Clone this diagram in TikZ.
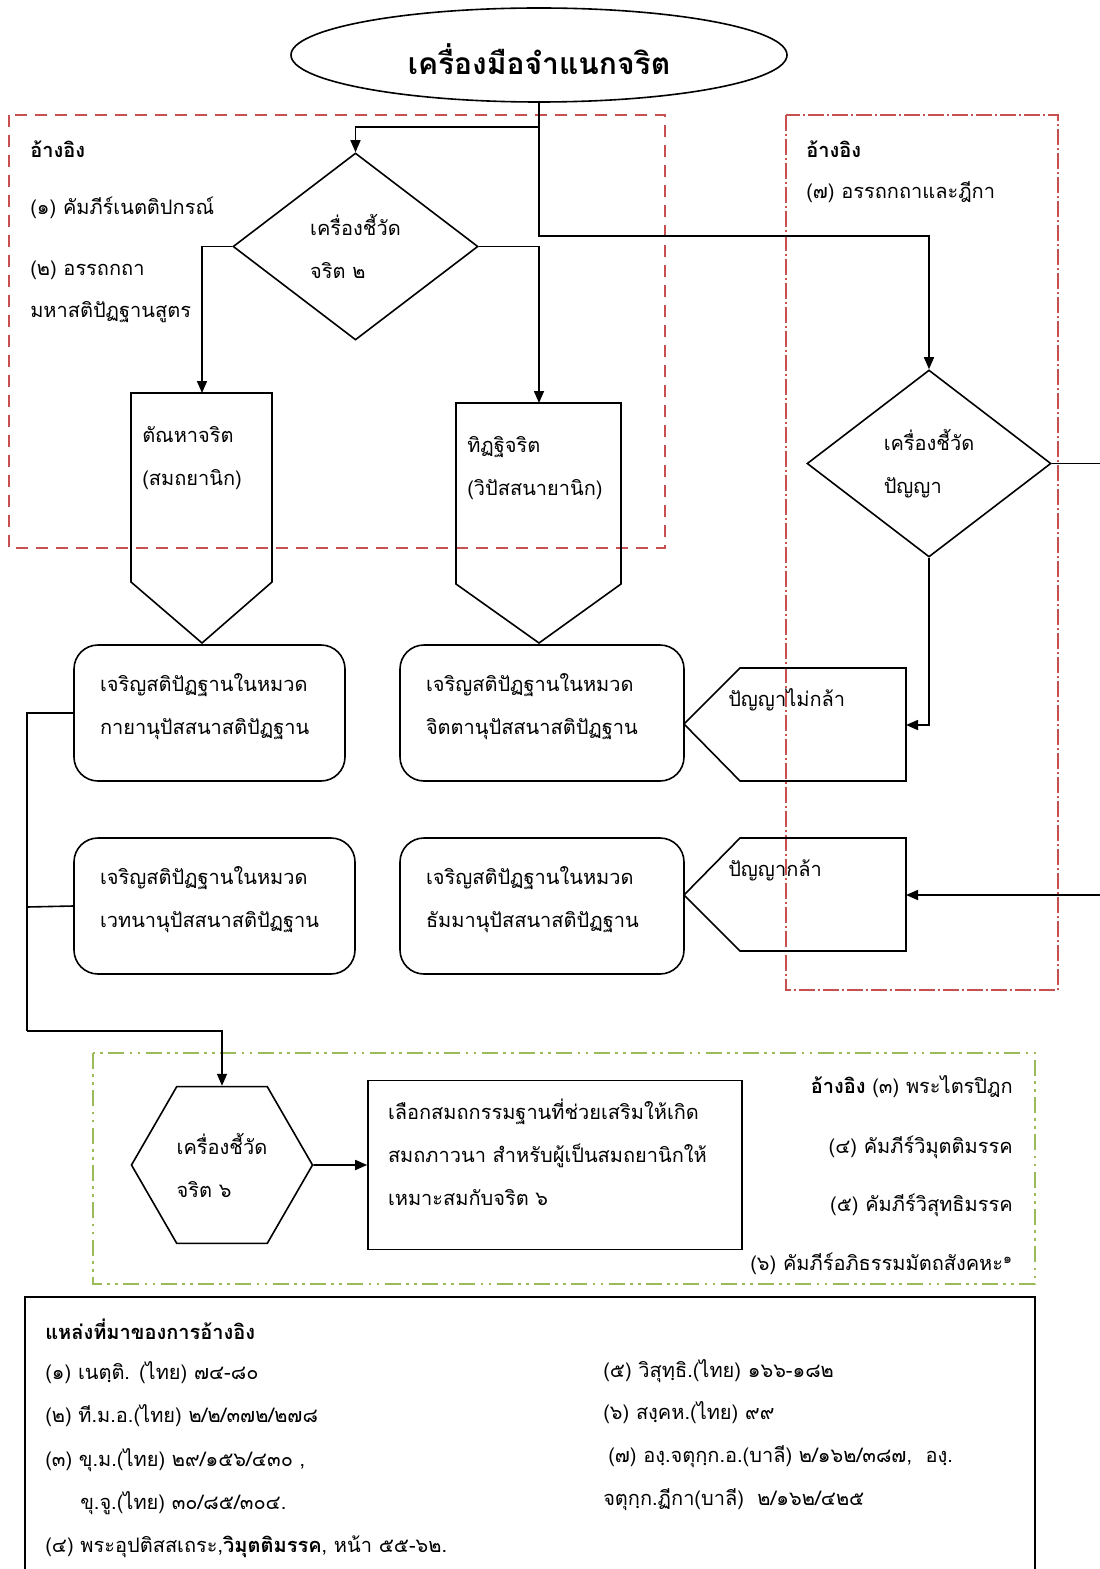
\documentclass[tikz,border=0pt]{standalone}
\usepackage{fontspec}
\newfontfamily\thaifont[Script=Thai]{Loma}
\usetikzlibrary{arrows.meta,positioning,shapes.geometric}
\definecolor{refred}{RGB}{200,80,80}
\definecolor{refgreen}{RGB}{155,187,89}
\tikzset{
  txt/.style={font=\thaifont\fontsize{15pt}{32.25pt}\selectfont,align=left,inner sep=0pt,anchor=west},
  hd/.style={txt,font=\thaifont\bfseries\fontsize{15pt}{32.25pt}\selectfont},
  ln/.style={-,draw=black,line width=1.2pt},
  ar/.style={-{Triangle[length=9pt,width=7.5pt]},draw=black,line width=1.2pt},
  dia/.style={diamond,draw,line width=1.2pt,inner sep=0pt,txt,anchor=center},
  rbox/.style={rectangle,rounded corners=18pt,draw,line width=1.2pt,txt,anchor=center,inner xsep=19.5pt,text depth=46pt},
  hexa/.style={regular polygon,regular polygon sides=6,draw,line width=1.2pt,txt,anchor=center,minimum size=135.75pt},
  refbox/.style={draw=refred,line width=1.5pt,dash pattern=on 9pt off 6pt},
  refbox2/.style={draw=refred,line width=0.8pt,dash pattern=on 12pt off 2.5pt on 1pt off 2.5pt},
  grbox/.style={draw=refgreen,line width=1.5pt,dash pattern=on 12pt off 4pt on 2pt off 4pt on 2pt off 4pt}
}
\begin{document}
\begin{tikzpicture}[x=0.75pt,y=-0.75pt]
  \useasboundingbox (0,0) rectangle (1099,1569);
  % reference frames
  \draw[refbox] (9,115) rectangle (665,548);
  \draw[refbox2] (786,115) rectangle (1058,990);
  \draw[grbox] (93,1053) rectangle (1035,1284);
  \draw[line width=0.8pt] (25,1297) rectangle (1035,1600);

  \node[ellipse,draw,line width=1.2pt,minimum width=372pt,minimum height=70.5pt,inner sep=0pt,text height=30pt,
        font=\thaifont\bfseries\fontsize{22.5pt}{27pt}\selectfont] (tool) at (539,55) {เครื่องมือจำแนกจริต};
  \node[dia,minimum width=183.75pt,minimum height=140.25pt] (cr2) at (355.5,246.5) {เครื่องชี้วัด\\จริต ๒};
  \node[dia,minimum width=183pt,minimum height=140.25pt] (pan) at (929,463.5) {เครื่องชี้วัด\\ปัญญา};

  % pentagons
  \draw[ln] (131,582) -- (131,393) -- (272,393) -- (272,582) -- (202,643) -- cycle;
  \draw[ln] (456,584) -- (456,403) -- (621,403) -- (621,584) -- (539,643) -- cycle;
  \draw[ln] (684,724) -- (740,668) -- (906,668) -- (906,781) -- (740,781) -- cycle;
  \draw[ln] (684,895) -- (740,838) -- (906,838) -- (906,951) -- (740,951) -- cycle;
  \coordinate (tanTop) at (202,393);
  \coordinate (titTop) at (539,403);
  \coordinate (weakR) at (906,725);
  \coordinate (sharpR) at (906,895);
  \node[txt] (tanha) at (142,458.5) {ตัณหาจริต\\(สมถยานิก)};
  \node[txt] (titthi) at (467,468) {ทิฏฐิจริต\\(วิปัสสนายานิก)};
  \node[txt] (weak) at (728,700) {ปัญญาไม่กล้า};
  \node[txt] (sharp) at (728,870) {ปัญญากล้า};

  \node[rbox,minimum width=203.25pt,minimum height=102pt,text width=164.25pt] (kaya) at (209.5,713) {เจริญสติปัฏฐานในหมวด\\กายานุปัสสนาสติปัฏฐาน};
  \node[rbox,minimum width=213pt,minimum height=102pt,text width=174pt] (citta) at (542,713) {เจริญสติปัฏฐานในหมวด\\จิตตานุปัสสนาสติปัฏฐาน};
  \node[rbox,minimum width=210.75pt,minimum height=102pt,text width=171.75pt] (vedana) at (214.5,906) {เจริญสติปัฏฐานในหมวด\\เวทนานุปัสสนาสติปัฏฐาน};
  \node[rbox,minimum width=213pt,minimum height=102pt,text width=174pt] (dhamma) at (542,906) {เจริญสติปัฏฐานในหมวด\\ธัมมานุปัสสนาสติปัฏฐาน};

  \node[hexa] (cr6) at (222,1165) {เครื่องชี้วัด\\จริต ๖};
  \node[draw,line width=1.2pt,txt,anchor=center,minimum width=280.5pt,minimum height=126.75pt,inner xsep=15pt,
        text width=250.5pt,text depth=83pt] (samatha) at (555,1165)
    {เลือกสมถกรรมฐานที่ช่วยเสริมให้เกิด\\สมถภาวนา สำหรับผู้เป็นสมถยานิกให้\\เหมาะสมกับจริต ๖};

  % connectors
  \draw[ar] (tool.south) -- (539,127) -| (cr2.north);
  \draw[ar] (tool.south) |- (929,236) -- (pan.north);
  \draw[ar] (cr2.west) -| (tanTop);
  \draw[ar] (cr2.east) -| (titTop);
  \draw[ar] (pan.south) |- (weakR);
  \draw[ar] (pan.east) -- (1110,463.5) |- (sharpR);
  \draw[ln] (kaya.west) -| (27,1031);
  \draw[ln] (vedana.west) -- (27,907);
  \draw[ar] (27,1031) -| (cr6.north);
  \draw[ar] (cr6.east) -- (samatha.west);

  % references
  \node[hd] (refL) at (30,149) {อ้างอิง};
  \node[txt] (r1) at (30,208) {(๑) คัมภีร์เนตติปกรณ์};
  \node[txt] (r2) at (30,270) {(๒) อรรถกถา};
  \node[txt] (r2b) at (30,312) {มหาสติปัฏฐานสูตร};
  \node[hd] (refR) at (806,149) {อ้างอิง};
  \node[txt] (r7) at (806,192) {(๗) อรรถกถาและฎีกา};
  \node[txt,anchor=east] (r3) at (1013,1087) {\textbf{อ้างอิง} (๓) พระไตรปิฎก};
  \node[txt,anchor=east] (r4) at (1013,1147) {(๔) คัมภีร์วิมุตติมรรค};
  \node[txt,anchor=east] (r5) at (1013,1205) {(๕) คัมภีร์วิสุทธิมรรค};
  \node[txt,anchor=east] (r6) at (1013,1264) {(๖) คัมภีร์อภิธรรมมัตถสังคหะ\textsuperscript{๑}};

  % sources
  \node[hd] (src) at (45,1329) {แหล่งที่มาของการอ้างอิง};
  \node[txt] (s1) at (45,1373) {(๑) เนตฺติ. (ไทย) ๗๔-๘๐};
  \node[txt] (s2) at (45,1416) {(๒) ที.ม.อ.(ไทย) ๒/๒/๓๗๒/๒๗๘};
  \node[txt] (s3) at (45,1460) {(๓) ขุ.ม.(ไทย) ๒๙/๑๕๖/๔๓๐ ,};
  \node[txt] (s3b) at (80,1503) {ขุ.จู.(ไทย) ๓๐/๘๕/๓๐๔.};
  \node[txt] (s4) at (45,1547) {(๔) พระอุปติสสเถระ,\textbf{วิมุตติมรรค}, หน้า ๕๕-๖๒.};
  \node[txt] (s5) at (603,1371) {(๕) วิสุทฺธิ.(ไทย) ๑๖๖-๑๘๒};
  \node[txt] (s6) at (603,1413) {(๖) สงฺคห.(ไทย) ๙๙};
  \node[txt] (s7) at (608,1457) {(๗) องฺ.จตุกฺก.อ.(บาลี) ๒/๑๖๒/๓๘๗,\ \ องฺ.};
  \node[txt] (s7b) at (603,1500) {จตุกฺก.ฏีกา(บาลี)\ \ ๒/๑๖๒/๔๒๕};
\end{tikzpicture}
\end{document}
